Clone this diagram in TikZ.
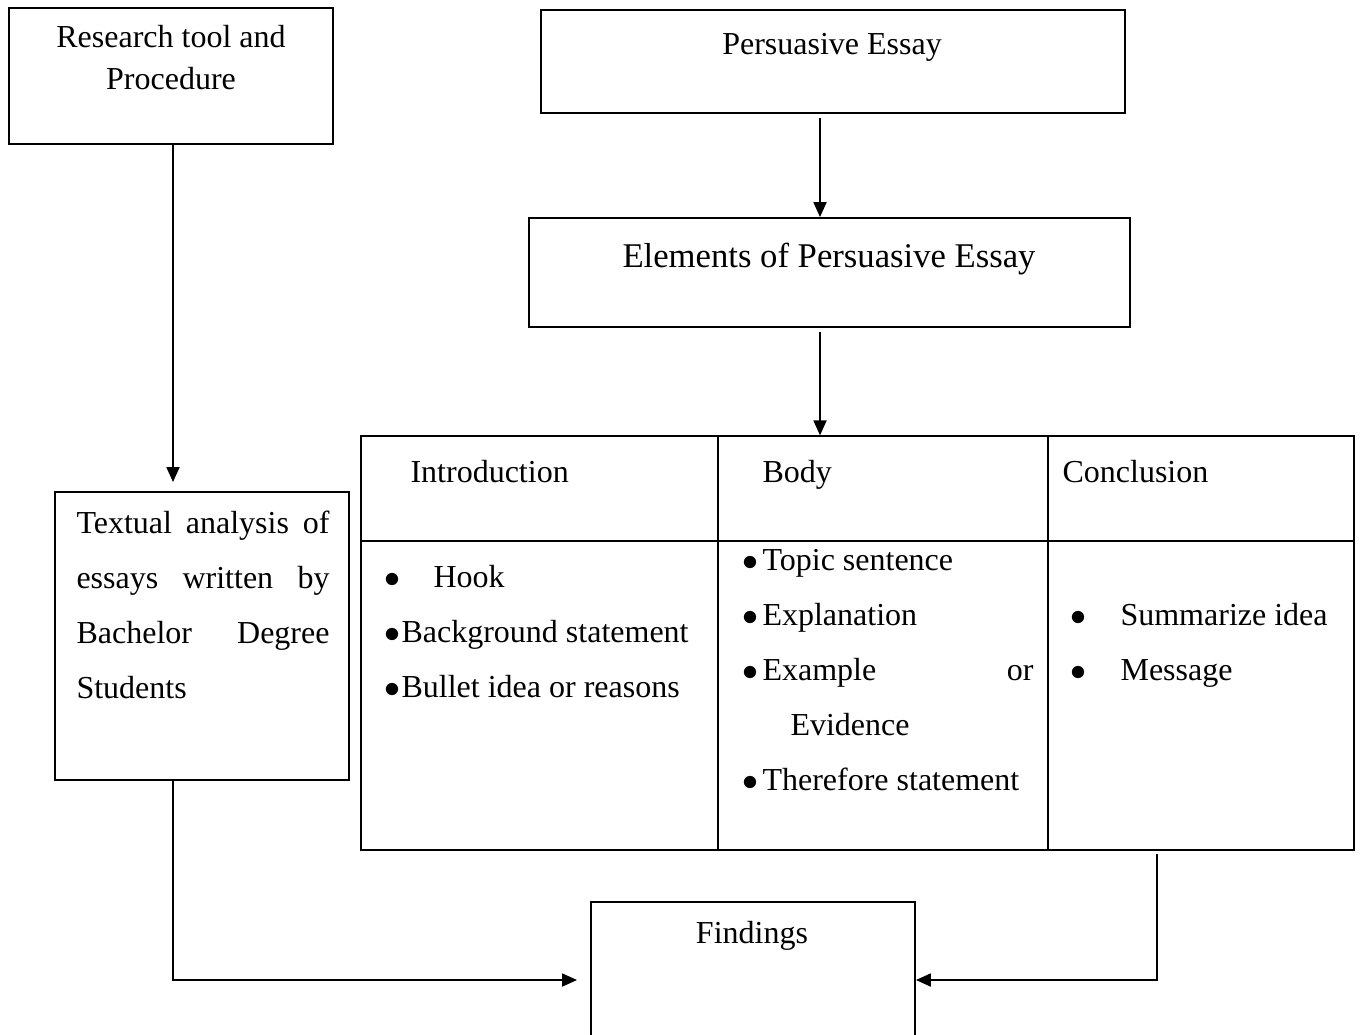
\documentclass[tikz,border=0pt]{standalone}
\usepackage{fontspec}
\setmainfont{Liberation Serif}
\usetikzlibrary{arrows.meta,fit}
\begin{document}
\begin{tikzpicture}[x=0.375pt,y=-0.375pt,
  box/.style={draw, line width=0.7pt, inner sep=0pt},
  cell/.style={draw, line width=0.5pt, inner sep=0pt},
  txt/.style={inner sep=0pt, font=\fontsize{12pt}{14pt}\selectfont},
  bigtxt/.style={inner sep=0pt, font=\fontsize{13pt}{15pt}\selectfont},
  bul/.style={inner sep=0pt, anchor=base, font=\fontsize{12pt}{14pt}\selectfont},
  arr/.style={line width=0.6pt, -{Triangle[length=5.6pt,width=4.9pt]}},
  ln/.style={line width=0.5pt}]
\useasboundingbox (0,0) rectangle (1360,1034);
\clip (0,0) rectangle (1360,1034);
% boxes
\node[box, fit={(9,8) (333,144)}] (A) {};
\node[box, fit={(541,10) (1125,113)}] (B) {};
\node[box, fit={(529,218) (1130,327)}] (C) {};
\node[cell, fit={(361,436) (1354,850)}] (T) {};
\node[box, fit={(55,492) (349,780)}] (D) {};
\node[box, fit={(591,902) (915,1058)}] (F) {};
% helper coordinates
\coordinate (cA) at (173,0);
\coordinate (cB) at (820,0);
\coordinate (cT) at (1157,0);
\coordinate (k1) at (718,0);
\coordinate (k2) at (1048,0);
\coordinate (r1) at (0,541);
% table grid
\draw[ln] (T.north -| k1) -- (T.south -| k1);
\draw[ln] (T.north -| k2) -- (T.south -| k2);
\draw[ln] (T.west |- r1) -- (T.east |- r1);
% texts
\node[txt, anchor=base] (a1) at (171,48) {Research tool and};
\node[txt, anchor=base] (a2) at (171,90) {Procedure};
\node[txt, anchor=base] (b1) at (832,55) {Persuasive Essay};
\node[bigtxt, anchor=base] (c1) at (829,267) {Elements of Persuasive Essay};
\node[txt, anchor=base] (f1) at (752,943) {Findings};
\node[txt, anchor=base west] (d1) at (76,533) {\makebox[94.875pt][s]{Textual analysis of}};
\node[txt, anchor=base west] (d2) at (76,588) {\makebox[94.875pt][s]{essays written by}};
\node[txt, anchor=base west] (d3) at (76,643) {\makebox[94.875pt][s]{Bachelor Degree}};
\node[txt, anchor=base west] (d4) at (76,698) {Students};
% table headers
\node[txt, anchor=base west] (h1) at (410,482) {Introduction};
\node[txt, anchor=base west] (h2) at (762,482) {Body};
\node[txt, anchor=base west] (h3) at (1062,482) {Conclusion};
% introduction column
\node[bul] (i0) at (392,587) {$\bullet$};
\node[txt, anchor=base west] (i1) at (433,587) {Hook};
\node[bul] (i2b) at (392,642) {$\bullet$};
\node[txt, anchor=base west] (i2) at (401,642) {Background statement};
\node[bul] (i3b) at (392,697) {$\bullet$};
\node[txt, anchor=base west] (i3) at (401,697) {Bullet idea or reasons};
% body column
\node[bul] (o1b) at (750,570) {$\bullet$};
\node[txt, anchor=base west] (o1) at (762,570) {Topic sentence};
\node[bul] (o2b) at (750,625) {$\bullet$};
\node[txt, anchor=base west] (o2) at (762,625) {Explanation};
\node[bul] (o3c) at (750,680) {$\bullet$};
\node[txt, anchor=base west] (o3) at (762,680) {Example};
\node[txt, anchor=base east] (o3b) at (1034,680) {or};
\node[txt, anchor=base west] (o4) at (790,735) {Evidence};
\node[bul] (o5b) at (750,790) {$\bullet$};
\node[txt, anchor=base west] (o5) at (762,790) {Therefore statement};
% conclusion column
\node[bul] (s0) at (1078,625) {$\bullet$};
\node[txt, anchor=base west] (s1) at (1120,625) {Summarize idea};
\node[bul] (s2a) at (1078,680) {$\bullet$};
\node[txt, anchor=base west] (s2) at (1120,680) {Message};
% connectors
\draw[arr, shorten >=3.4pt] (A.south -| cA) -- (D.north -| cA);
\draw[arr, shorten <=1.5pt] (B.south -| cB) -- (C.north -| cB);
\draw[arr, shorten <=1.5pt] (C.south -| cB) -- (T.north -| cB);
\draw[arr, shorten >=4.9pt] (D.south -| cA) |- (F.west);
\draw[arr, shorten <=1.1pt] (T.south -| cT) |- (F.east);
\end{tikzpicture}
\end{document}
